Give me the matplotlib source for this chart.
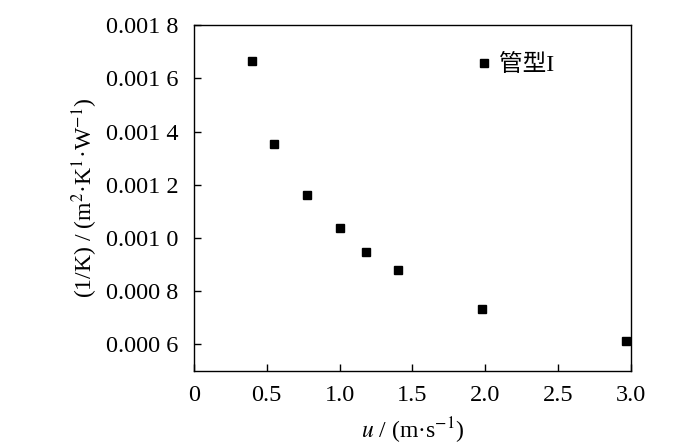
import matplotlib
matplotlib.use("Agg")
import matplotlib.pyplot as plt
from matplotlib.ticker import FixedLocator, FixedFormatter

plt.rcParams['font.family'] = ['Liberation Serif', 'Noto Sans CJK SC', 'DejaVu Sans']
plt.rcParams['mathtext.fontset'] = 'stix'

# data
u = [0.40, 0.55, 0.78, 1.00, 1.18, 1.40, 1.98, 2.97]
inv_k = [0.001665, 0.001353, 0.001161, 0.001037, 0.000947, 0.000879, 0.000732, 0.000612]
series_name = "管型I"

x_ticks = [0, 0.5, 1.0, 1.5, 2.0, 2.5, 3.0]
x_tick_labels = ["0", "0.5", "1.0", "1.5", "2.0", "2.5", "3.0"]
y_ticks = [0.0006, 0.0008, 0.0010, 0.0012, 0.0014, 0.0016, 0.0018]
y_tick_labels = ["0.000 6", "0.000 8", "0.001 0", "0.001 2", "0.001 4", "0.001 6", "0.001 8"]

fig = plt.figure(figsize=(7, 4.48), dpi=100)
ax = fig.add_axes([0.277, 0.172, 0.624, 0.772])

ax.plot(u, inv_k, 's', color='black', ms=6, linestyle='none', label=series_name)

ax.set_xlim(0, 3.0)
ax.set_ylim(0.0005, 0.0018)
ax.xaxis.set_major_locator(FixedLocator(x_ticks))
ax.xaxis.set_major_formatter(FixedFormatter(x_tick_labels))
ax.yaxis.set_major_locator(FixedLocator(y_ticks))
ax.yaxis.set_major_formatter(FixedFormatter(y_tick_labels))
ax.tick_params(direction='in', length=5, width=1, labelsize=17.5)
ax.tick_params(axis='x', pad=10)
ax.tick_params(axis='y', pad=11)

for sp in ax.spines.values():
    sp.set_linewidth(1)

ax.set_xlabel(r"$u$ / (m·s$^{-1}$)", fontsize=17, labelpad=7)
ax.set_ylabel(r"(1/K) / (m$^{2}$·K$^{1}$·W$^{-1}$)", fontsize=17, labelpad=4)

ax.legend(loc='center left', bbox_to_anchor=(0.637, 0.884), frameon=False,
          handlelength=1.0, handletextpad=0.15, borderpad=0, borderaxespad=0,
          fontsize=17, markerscale=1.0)

fig.savefig("out.png", dpi=100)
